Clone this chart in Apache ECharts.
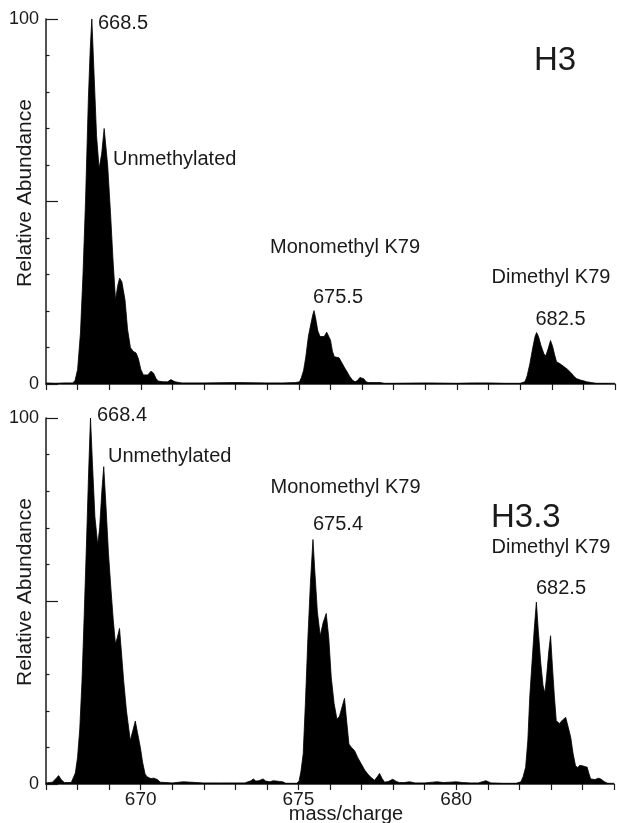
<!DOCTYPE html>
<html>
<head>
<meta charset="utf-8">
<script src="https://cdn.jsdelivr.net/npm/echarts@6/dist/echarts.min.js"></script>
<style>
html,body{margin:0;padding:0;background:#fff;}
#chart{width:617px;height:823px;}
</style>
</head>
<body>
<div id="chart"></div>
<script>
// H3 spectrum (m/z, relative abundance)
var h3Mz = [667.0,667.3,667.6,667.85,667.92,668.0,668.09,668.17,668.25,668.34,668.40,668.45,668.52,668.60,668.68,668.76,668.84,668.88,668.95,669.04,669.12,669.20,669.27,669.33,669.40,669.50,669.58,669.67,669.75,669.85,669.92,670.0,670.08,670.14,670.22,670.32,670.40,670.48,670.55,670.7,670.85,670.95,671.0,671.08,671.3,672.0,673.0,674.0,674.5,674.9,
675.02,675.08,675.15,675.22,675.30,675.38,675.44,675.48,675.53,675.60,675.67,675.73,675.80,675.88,675.94,676.0,676.06,676.12,676.2,676.27,676.31,676.38,676.45,676.52,676.6,676.7,676.78,676.86,676.93,676.99,677.06,677.12,677.2,677.4,677.57,677.7,678.0,679.0,680.0,680.5,681.0,681.5,682.0,
682.15,682.22,682.31,682.40,682.47,682.52,682.58,682.66,682.75,682.81,682.88,682.96,683.02,683.09,683.15,683.25,683.35,683.41,683.5,683.63,683.7,683.78,683.9,684.0,684.1,684.25,684.4,684.7,685.0];
var h3Ab = [0.3,0.2,0.3,0.3,1,4,14,30,50,78,92,100,85,68,59,63,70,70,60,47,34,23,27,29,28,23,15,10,9,8.5,7,4,2.5,2,2.5,3.5,3,1.5,0.8,0.6,0.6,1.2,1.3,0.6,0.3,0.3,0.4,0.3,0.3,0.4,
0.6,1.8,3.8,7.5,13,16.5,19,20.1,18,14.5,13,12.5,13,14.2,14.3,12,9,7.5,7.3,7.2,7,5.5,4.4,3.4,2.2,1,0.6,1,1.8,2,1.4,0.6,0.4,0.4,0.4,0.2,0.2,0.3,0.2,0.3,0.3,0.2,0.2,
0.6,2.2,5.7,10,13,14.1,13,10.5,8.3,7.7,9.5,11.9,10.5,8,6.1,5.6,5,4.7,4,2.9,2.1,1.5,1.1,0.9,0.6,0.4,0.2,0.2,0.2];

// H3.3 spectrum (m/z, relative abundance)
var h33Mz = [667.0,667.2,667.32,667.40,667.48,667.58,667.8,667.86,667.93,668.0,668.07,668.14,668.21,668.28,668.35,668.41,668.47,668.55,668.64,668.70,668.77,668.83,668.90,668.98,669.06,669.13,669.20,669.26,669.33,669.40,669.46,669.55,669.67,669.75,669.83,669.9,669.99,670.06,670.14,670.2,670.25,670.32,670.36,670.42,670.46,670.53,670.62,670.8,671.0,671.35,672.0,672.5,673.0,673.3,673.5,673.57,673.65,673.75,673.88,673.96,674.1,674.2,674.3,674.4,674.5,674.6,674.95,
675.02,675.08,675.15,675.22,675.30,675.38,675.46,675.52,675.60,675.69,675.78,675.88,675.96,676.04,676.13,676.22,676.30,676.38,676.46,676.53,676.60,676.68,676.78,676.88,676.99,677.1,677.20,677.3,677.41,677.5,677.57,677.65,677.73,677.85,677.99,678.1,678.2,678.35,678.52,678.7,679.0,679.25,679.4,679.6,679.8,680.0,680.2,680.45,680.7,680.94,681.1,681.5,681.9,
682.05,682.12,682.20,682.27,682.33,682.40,682.47,682.54,682.60,682.68,682.75,682.81,682.87,682.93,682.99,683.05,683.11,683.17,683.27,683.37,683.47,683.55,683.63,683.70,683.78,683.85,683.92,683.99,684.07,684.15,684.2,684.26,684.4,684.5,684.58,684.7,684.8,685.0];
var h33Ab = [0.3,0.5,1.5,2.3,1.2,0.4,0.4,0.8,3,7.3,15,28,46,65,85,100,88,73,65.3,70,80,86.7,76,63,53,45,38.3,40,42.5,35,28.3,20,11.9,14.5,17.2,14,10,6,2.7,2,2.3,1.5,1.0,1.6,2,1.2,0.5,0.4,0.3,0.6,0.3,0.3,0.3,0.3,0.9,1.4,0.8,0.9,1.4,0.8,0.6,0.9,0.8,0.7,0.6,0.2,0.2,
0.8,3.5,8.2,22,40,55,66.8,58,47,40.5,44,46.6,40,29.1,22,17.7,18.5,21,23.4,17,10.9,10,9.1,7.2,5.5,3.8,2.7,1.8,1,2,2.9,1.5,0.5,0.7,1.3,0.7,0.4,0.4,0.6,0.3,0.3,0.5,0.6,0.4,0.5,0.6,0.4,0.3,0.3,0.9,0.3,0.2,0.2,
0.6,2,4.6,12,23.7,33,42,49.7,42,33,27,24.8,30,36,40.5,32,24,17.3,16.5,17.5,18.2,15.5,12.7,8.5,5.0,4.5,5.1,5,4.8,4.6,3,1.4,1.2,1.6,1.4,0.6,0.2,0.2];

var xMin = 667, xMax = 685, xStep = 1;
var xLabelValues = [670, 675, 680];
var yLabelValues = [0, 100];

function pairs(xs, ys){ return xs.map(function(x,i){ return [x, ys[i]]; }); }

var FONT = '"Liberation Sans", Arial, Helvetica, sans-serif';
var INK = '#1a1a1a';

function xAxisFor(idx, showLabels){
  return {
    type:'value', gridIndex: idx, min:xMin, max:xMax, interval:xStep,
    axisLine:{show:true, onZero:false, lineStyle:{color:INK, width:1.5}},
    axisTick:{show:true, inside:false, length:6, lineStyle:{color:INK, width:1.2}},
    axisLabel:{show:showLabels, margin:6, color:INK, fontSize:19, fontFamily:FONT,
      formatter:function(v){ return xLabelValues.indexOf(Math.round(v))>=0 ? String(Math.round(v)) : ''; }},
    splitLine:{show:false}
  };
}
function yAxisFor(idx){
  return {
    type:'value', gridIndex: idx, min:0, max:100, interval:50,
    axisLine:{show:true, lineStyle:{color:INK, width:1.5}},
    axisTick:{show:true, inside:true, length:12, lineStyle:{color:INK, width:1.2}},
    minorTick:{show:true, splitNumber:5, length:3.5, lineStyle:{color:INK, width:1.2}},
    axisLabel:{margin:7, color:INK, fontSize:18, fontFamily:FONT,
      formatter:function(v){ return yLabelValues.indexOf(v)>=0 ? String(v) : ''; }},
    splitLine:{show:false}, minorSplitLine:{show:false}
  };
}
function seriesFor(idx, data){
  return {
    type:'line', xAxisIndex:idx, yAxisIndex:idx, data:data,
    symbol:'none', smooth:false,
    lineStyle:{color:'#000', width:0.8},
    areaStyle:{color:'#000', opacity:1},
    silent:true
  };
}
function txt(s, x, y, size, align){
  return {type:'text', x:x, y:y, silent:true,
    style:{text:s, fill:INK, font: size+'px '+FONT, textAlign:align||'left', textVerticalAlign:'middle'}};
}

var chart = echarts.init(document.getElementById('chart'), null, {renderer:'canvas'});
chart.setOption({
  animation:false,
  backgroundColor:'#fff',
  grid:[
    {left:46, right:2, top:19, height:365},
    {left:46, right:2, top:418, height:366}
  ],
  xAxis:[xAxisFor(0,false), xAxisFor(1,true)],
  yAxis:[yAxisFor(0), yAxisFor(1)],
  series:[seriesFor(0, pairs(h3Mz,h3Ab)), seriesFor(1, pairs(h33Mz,h33Ab))],
  graphic:[
    {type:'text', x:25, y:193, rotation:Math.PI/2, silent:true,
      style:{text:'Relative Abundance', fill:INK, font:'21px '+FONT, textAlign:'center', textVerticalAlign:'middle'}},
    {type:'text', x:25, y:592, rotation:Math.PI/2, silent:true,
      style:{text:'Relative Abundance', fill:INK, font:'21px '+FONT, textAlign:'center', textVerticalAlign:'middle'}},
    {type:'text', x:346, y:814, silent:true,
      style:{text:'mass/charge', fill:INK, font:'20px '+FONT, textAlign:'center', textVerticalAlign:'middle'}},
    txt('668.5', 98, 23, 20),
    txt('Unmethylated', 113, 159, 20),
    txt('H3', 534, 61, 33),
    txt('Monomethyl K79', 270, 247.5, 20),
    txt('675.5', 313, 297, 20),
    txt('Dimethyl K79', 491.5, 277, 20),
    txt('682.5', 535.5, 319.5, 20),
    txt('668.4', 97, 415.5, 20),
    txt('Unmethylated', 108, 456.5, 20),
    txt('H3.3', 491, 518, 33),
    txt('Monomethyl K79', 270.5, 487.5, 20),
    txt('675.4', 313, 524, 20),
    txt('Dimethyl K79', 491.5, 547.5, 20),
    txt('682.5', 536, 588, 20)
  ]
});
</script>
</body>
</html>
